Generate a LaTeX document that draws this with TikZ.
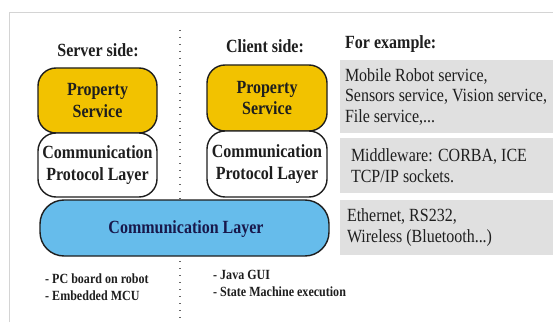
\documentclass[tikz,border=0pt]{standalone}
\usepackage{fontspec}
\setmainfont{Liberation Serif}[FakeStretch=0.86]
\definecolor{gold}{HTML}{F2C200}
\definecolor{skyb}{HTML}{66BCEB}
\definecolor{boxgray}{HTML}{E0E0E0}
\definecolor{framegray}{HTML}{D4D4D4}
\definecolor{ink}{HTML}{1E1E1E}
\begin{document}
\begin{tikzpicture}[x=1pt,y=-1pt,
  layerbox/.style={draw=ink, line width=1.4pt, rounded corners=18pt, align=center,
    font=\fontsize{18.6}{21.5}\selectfont\bfseries, text=ink, inner sep=0pt},
  graybox/.style={fill=boxgray, draw=none, inner sep=0pt},
  graytext/.style={anchor=west, align=left, font=\fontsize{18.6}{20.5}\selectfont, text=ink, inner sep=0pt},
  heading/.style={font=\fontsize{18.6}{19}\selectfont\bfseries, text=ink, inner sep=0pt},
  smalltext/.style={anchor=west, align=left, font=\fontsize{14}{17}\selectfont\bfseries, text=ink, inner sep=0pt}
]
\useasboundingbox (0,0) rectangle (553,323);
\fill[white] (0,0) rectangle (553,323);
% frame
\coordinate (f1) at (9,322);
\coordinate (f2) at (9,13);
\coordinate (f3) at (553,13);
\draw[framegray, line width=1pt] (f1) -- (f2) -- (f3);
% dotted separator
\coordinate (dtop) at (180,30);
\coordinate (dbot) at (180,322);
\draw[gray!80!black, line width=1.4pt, dash pattern=on 1.4pt off 5.6pt] (dtop) -- (dbot);
% headings
\node[heading] (sside) at (98,50) {Server side:};
\node[heading] (cside) at (265,46) {Client side:};
\node[heading, anchor=west] (forex) at (345,44) {For example:};
% server stack
\node[layerbox, fill=gold, minimum width=119pt, minimum height=65pt] (lps) at (97.5,100.5) {Property\\Service};
\node[layerbox, fill=white, minimum width=119pt, minimum height=64pt] (lcpl) at (97.5,165) {Communication\\Protocol Layer};
% client stack
\node[layerbox, fill=gold, minimum width=120pt, minimum height=66pt] (cps) at (267,98) {Property\\Service};
\node[layerbox, fill=white, minimum width=120pt, minimum height=66pt] (ccpl) at (267,164) {Communication\\Protocol Layer};
% communication layer
\node[layerbox, fill=skyb, rounded corners=24pt, minimum width=289pt, minimum height=56pt] (cl) at (184.5,228) {};
\node[font=\fontsize{18.6}{19}\selectfont\bfseries, text=ink!80!blue, inner sep=0pt] (cltext) at (186,229) {Communication Layer};
% example boxes
\node[graybox, minimum width=213pt, minimum height=73pt] (g1) at (446.5,96.5) {};
\node[graybox, minimum width=213pt, minimum height=55pt] (g2) at (446.5,165.5) {};
\node[graybox, minimum width=213pt, minimum height=55pt] (g3) at (446.5,227.5) {};
\node[graytext] (t1) at ([xshift=5pt]g1.west) {Mobile Robot service,\\Sensors service, Vision service,\\File service,...};
\node[graytext] (t2) at ([xshift=11pt]g2.west) {Middleware: CORBA, ICE\\TCP/IP sockets.};
\node[graytext] (t3) at ([xshift=7pt]g3.west) {Ethernet, RS232,\\Wireless (Bluetooth...)};
% bottom notes
\node[smalltext] (snote) at (45,287) {- PC board on robot\\- Embedded MCU};
\node[smalltext] (cnote) at (213,283) {- Java GUI\\- State Machine execution};
\end{tikzpicture}
\end{document}
